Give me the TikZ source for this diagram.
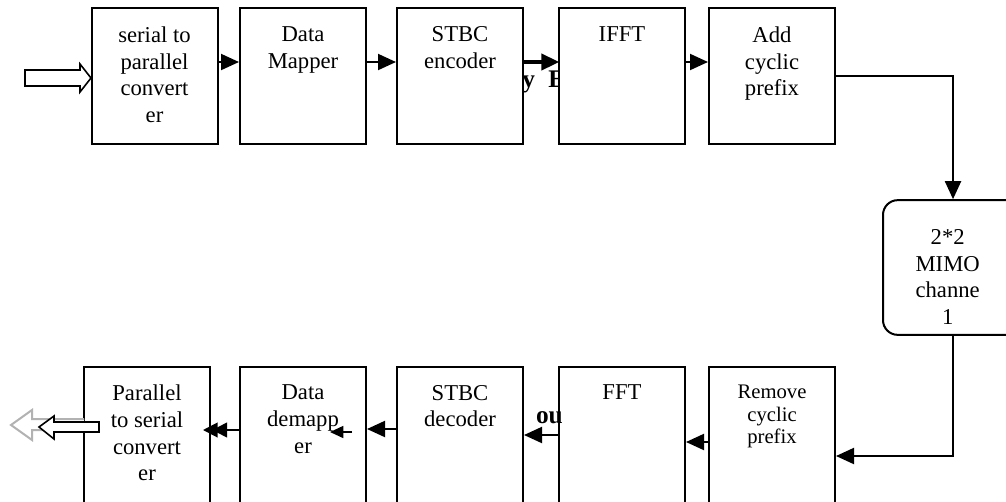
\documentclass[tikz,border=0pt]{standalone}
\usepackage{fontspec}
\setmainfont{Liberation Serif}
\usetikzlibrary{arrows.meta,positioning}

\begin{document}
\begin{tikzpicture}[x=0.75pt, y=-0.75pt, line width=1.5pt,
  blk/.style={draw, fill=white, minimum width=94.5pt, inner sep=0pt},
  txt/.style={inner sep=0pt, align=center, font=\fontsize{17}{20}\selectfont},
  tip/.style={-{Triangle[length=13.5pt,width=12pt]}},
  hollow/.style={draw, fill=white, line width=1.2pt, line join=miter},
  stray/.style={inner sep=0pt, font=\fontsize{19}{22}\selectfont\bfseries}]
  \useasboundingbox (0,0) rectangle (1006,501);
  \clip (0,0) rectangle (1006,501);
  % leftover text of the page, mostly under the boxes
  \node[stray, anchor=base west] (ghost) at (513,87) {ty\hspace{10pt}E};
  % transmitter row
  \node[blk, minimum height=102pt] (sp) at (154.5,76) {};
  \node[blk, minimum height=102pt] (map) at (303,76) {};
  \node[blk, minimum height=102pt] (enc) at (460,76) {};
  \node[blk, minimum height=102pt] (ifft) at (622,76) {};
  \node[blk, minimum height=102pt] (acp) at (772,76) {};
  \node[txt, below=14pt of sp.north] (sptxt) {serial to\\parallel\\convert\\er};
  \node[txt, below=14pt of map.north] (maptxt) {Data\\Mapper};
  \node[txt, below=14pt of enc.north] (enctxt) {STBC\\encoder};
  \node[txt, below=14pt of ifft.north] (iffttxt) {IFFT};
  \node[txt, below=14pt of acp.north] (acptxt) {Add\\cyclic\\prefix};
  % channel
  \node[blk, rounded corners=11pt, minimum width=105pt, minimum height=101pt] (mimo) at (953,267.5) {};
  \node[txt, below=22pt of mimo.north, xshift=-4pt] (mimotxt) {2*2\\MIMO\\channe\\1};
  % receiver row
  \node[blk, minimum height=112.5pt] (ps) at (147,442) {};
  \node[blk, minimum height=112.5pt] (dmp) at (303,442) {};
  \node[blk, minimum height=112.5pt] (dec) at (460,442) {};
  \node[blk, minimum height=112.5pt] (fft) at (622,442) {};
  \node[blk, minimum height=112.5pt] (rcp) at (772,442) {};
  \node[txt, below=13.5pt of ps.north] (pstxt) {Parallel\\to serial\\convert\\er};
  \node[txt, below=13.5pt of dmp.north] (dmptxt) {Data\\demapp\\er};
  \node[txt, below=13.5pt of dec.north] (dectxt) {STBC\\decoder};
  \node[txt, below=13.5pt of fft.north] (ffttxt) {FFT};
  \node[txt, font=\fontsize{15.5}{17}\selectfont, below=13.5pt of rcp.north] (rcptxt) {Remove\\cyclic\\prefix};
  \node[stray, anchor=base west] (ghost2) at (535,423) {ou};
  % connectors
  \draw[tip] ([yshift=10.5pt]sp.east) -- ([yshift=10.5pt]map.west);
  \draw[tip] ([yshift=10.5pt]map.east) -- ([yshift=10.5pt]enc.west);
  \draw[tip, line width=3pt] ([yshift=10.5pt]enc.east) -- ([shift={(1pt,10.5pt)}]ifft.west);
  \draw[tip] ([yshift=10.5pt]ifft.east) -- ([yshift=10.5pt]acp.west);
  \draw[tip] (acp.east) -| (mimo.north);
  \draw[tip] (mimo.south) |- ([yshift=-10.5pt]rcp.east);
  \draw[tip] (rcp.west) -- (fft.east);
  \draw[tip] ([yshift=5.25pt]fft.west) -- ([yshift=5.25pt]dec.east);
  \draw[tip] ([yshift=9.75pt]dec.west) -- ([yshift=9.75pt]dmp.east);
  \draw[-{Triangle[length=11pt,width=11pt,sep=-4pt]Triangle[length=11pt,width=11pt]}]
    ([yshift=9pt]dmp.west) -- ([shift={(-6pt,9pt)}]ps.east);
  \coordinate (s1) at (352,432);
  \coordinate (s2) at (330,432);
  \draw[-{Triangle[length=10pt,width=9pt]}, line width=1.2pt] (s1) -- (s2);
  % input and output
  \draw[hollow] (25,70) -- (80,70) -- (80,64) -- (91,78) -- (80,92) -- (80,86) -- (25,86) -- cycle;
  \draw[hollow, draw=gray!60, line width=1.5pt] (84,419) -- (32,419) -- (32,410) -- (11,425) -- (32,440) -- (32,430) -- (84,430);
  \draw[hollow] (99,422) -- (54,422) -- (54,416) -- (39,427) -- (54,439) -- (54,432) -- (99,432) -- cycle;
\end{tikzpicture}
\end{document}
